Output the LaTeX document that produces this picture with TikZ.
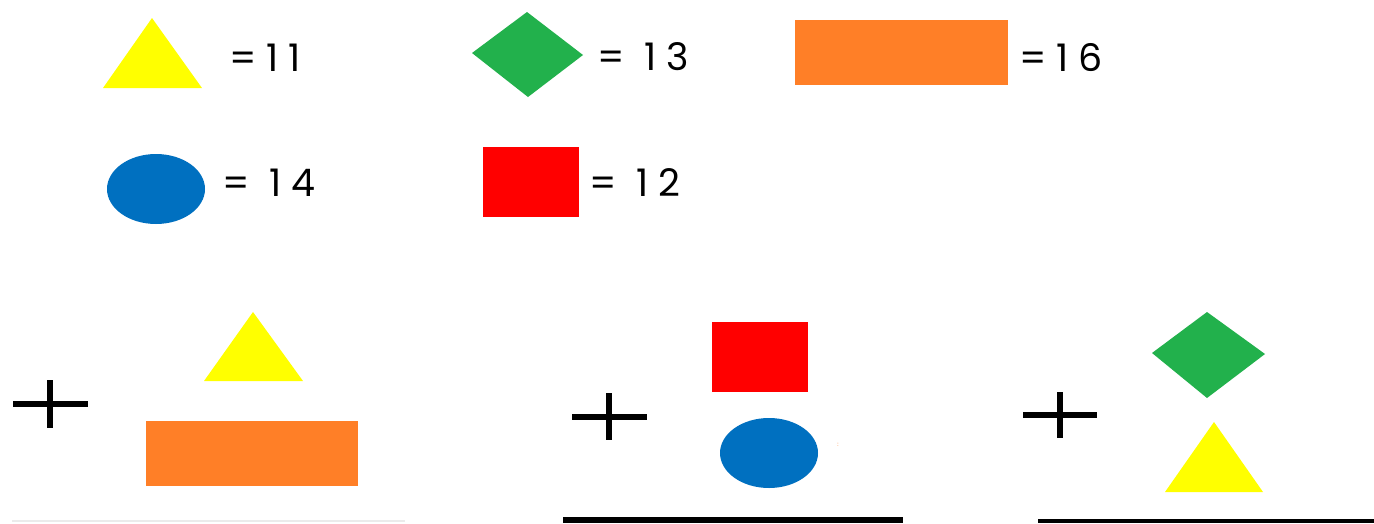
\documentclass[tikz,border=0pt]{standalone}
\usepackage{fontspec}
\setmainfont{Poppins}
\newfontfamily\valfont[LetterSpace=26]{Poppins}
\definecolor{shpyellow}{RGB}{255,255,0}
\definecolor{shpgreen}{RGB}{34,177,76}
\definecolor{shporange}{RGB}{255,127,39}
\definecolor{shpblue}{RGB}{0,112,192}
\definecolor{shpred}{RGB}{255,0,0}
\begin{document}
\begin{tikzpicture}[x=1pt,y=-1pt,
  val/.style={inner sep=0pt,outer sep=0pt,anchor=west,font=\valfont\fontsize{38}{44}\selectfont},
  plus/.style={draw=black,line width=5.5pt},
  rule/.style={draw=black,line width=5pt}]
\path[use as bounding box,fill=white] (0,0) rectangle (1374,523);
% key: shapes and their values
\path[fill=shpyellow] (152,18) -- (202,88) -- (103,88) -- cycle;
\node[val] (v11) at (229,58) {=11};
\path[fill=shpgreen] (472,53) -- (527,12) -- (583,55) -- (528,97) -- cycle;
\node[val] (v13) at (597,57) {= 13};
\path[fill=shporange] (795,20) rectangle (1008,85);
\node[val] (v16) at (1019,58) {=16};
\path[fill=shpblue] (156,189) ellipse [x radius=49, y radius=35];
\node[val] (v14) at (222,183) {= 14};
\path[fill=shpred] (483,147) rectangle (579,217);
\node[val] (v12) at (589,183) {= 12};
% sum 1
\draw[plus] (13,404) -- (88,404) (50,380) -- (50,428);
\path[fill=shpyellow] (253,312) -- (303,381) -- (204,381) -- cycle;
\path[fill=shporange] (146,421) rectangle (358,486);
\draw[draw=black!8,line width=1.5pt] (12,521) -- (405,521);
% sum 2
\draw[plus] (572,417) -- (647,417) (609,393) -- (609,440);
\path[fill=shpred] (712,322) rectangle (808,392);
\path[fill=shpblue] (769,453) ellipse [x radius=49, y radius=35];
\node[inner sep=0pt,text=shporange,font=\fontsize{6}{7}\selectfont] (dots) at (838,445) {:};
\draw[rule,line width=6pt] (563,520) -- (903,520);
% sum 3
\draw[plus] (1023,415) -- (1097,415) (1060,392) -- (1060,438);
\path[fill=shpgreen] (1152,353) -- (1207,312) -- (1265,354) -- (1207,398) -- cycle;
\path[fill=shpyellow] (1214,422) -- (1263,492) -- (1165,492) -- cycle;
\draw[rule,line width=4pt] (1038,521) -- (1374,521);
\end{tikzpicture}
\end{document}
